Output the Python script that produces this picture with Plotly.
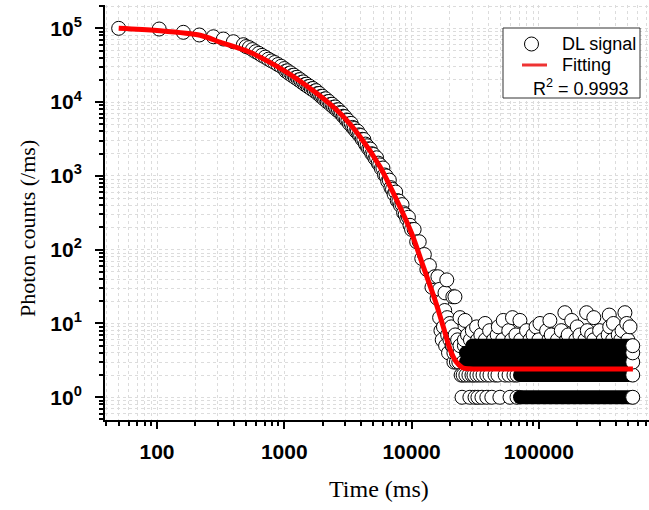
import plotly.graph_objects as go

# ---------------- data ----------------
# decay part of the DL signal (time in ms, photon counts per ms)
decay_t = [50, 104, 161, 215, 277, 332, 398, 477, 501, 531, 562, 596, 631, 668, 708, 750,
           794, 841, 891, 944, 1000, 1059, 1122, 1189, 1259, 1334, 1413, 1496, 1585, 1679,
           1778, 1884, 1995, 2113, 2239, 2371, 2512, 2661, 2818, 2985, 3162, 3350, 3548,
           3758, 3981, 4217, 4467, 4732, 5012, 5309, 5623, 5957, 6310, 6683, 7079, 7499,
           7943, 8414, 8913, 9441, 10000, 10471, 10965, 11482, 12023, 12589, 13183, 13804,
           14454, 15136, 15849, 16596, 17378, 18197, 19055, 19953]
decay_v = [100000, 97800, 88300, 81200, 76900, 71600, 65800, 60000, 56600, 54700, 51500,
           48300, 45800, 43000, 40700, 38200, 36200, 34400, 32300, 30600, 28500, 26600,
           24900, 23200, 21700, 20200, 18800, 17500, 16400, 15300, 14300, 13100, 12000,
           11100, 10200, 9360, 8590, 7880, 7140, 6350, 5660, 5150, 4390, 4040, 3530, 3110,
           2560, 2310, 1950, 1760, 1410, 1280, 998, 877, 656, 604, 455, 408, 299, 275, 188,
           188, 128, 128, 76, 86, 54, 61, 31, 43, 22, 29, 20, 15, 12, 10]

# further decay points along the lower side of the dense marker band
decay2_t = [1029, 1090, 1155, 1223, 1296, 1372, 1454, 1540, 1631, 1728, 1830, 1939, 2054,
            2175, 2304, 2441, 2585, 2738, 2901, 3073, 3255, 3447, 3652, 3868, 4097, 4340,
            4597, 4870, 5158, 5464, 5788, 6131, 6494, 6879, 7286, 7718, 8175, 8660, 9173,
            9716]
decay2_v = [26300, 24500, 22900, 21400, 20000, 18600, 17300, 16200, 15100, 14100, 13100,
            12000, 11000, 10100, 9310, 8550, 7850, 7210, 6440, 5730, 5090, 4540, 4040, 3600,
            3130, 2700, 2330, 2000, 1730, 1490, 1260, 1030, 845, 692, 568, 463, 398, 316,
            263, 214]

# noisy points around the knee of the decay
knee_t = [16100, 16600, 17000, 17400, 17800, 18300, 18500, 18900, 19200, 19500, 20000,
          20500, 21000, 21100, 21500, 21900, 22000, 22500, 23000, 23500, 24000, 24000]
knee_v = [43, 12, 8, 6, 9, 26, 5, 39, 7, 4, 6, 9, 5, 23, 3, 23, 7, 4, 6, 3, 12, 5]

# background (tail) points that are visible one by one
tail_t = [24900, 28700, 31500, 33200, 35700, 39000, 42700, 49400, 59300, 67300,          # 1
          24500, 25400, 26700, 28200, 29800, 30900, 32600, 34400, 36400, 39000, 41300,
          45200, 47700, 54300, 58300, 63700, 67300,                                      # 2
          22500, 25500,                                                                  # 3
          24000, 21500,                                                                  # 4
          20800, 23000, 26000,                                                           # 5
          26000, 29000, 33000, 38000, 44000, 52000, 61000, 72000, 85000, 100000,
          120000, 140000, 165000, 195000, 230000, 270000, 320000, 380000, 440000, 500000,  # 6
          27500, 35000, 47000, 66000, 90000, 125000, 170000, 210000, 260000, 350000, 420000,  # 7
          30000, 41000, 58000, 80000, 115000, 150000, 240000, 300000, 450000,            # 8
          32400, 48000, 95000, 200000, 360000, 520000,                                   # 9
          37800, 102000, 385000, 490000,                                                 # 10
          26300, 52500, 71000, 122000, 181000,                                           # 11
          62000, 270000,                                                                 # 12
          357000,                                                                        # 13
          160000, 237000, 474000]                                                        # 14
tail_v = [1] * 10 + [2] * 17 + [3] * 2 + [4] * 2 + [5] * 3 + [6] * 20 + [7] * 11 + \
         [8] * 9 + [9] * 6 + [10] * 4 + [11] * 5 + [12] * 2 + [13] + [14] * 3

# count levels that are so dense they form solid bands of markers
band_level = [1, 2, 3, 4, 5]
band_start = [71100, 71100, 26700, 26700, 30000]
band_end = [546000, 546000, 546000, 546000, 546000]

# fitted curve
fit_t = [50, 100, 218, 316, 537, 982, 1795, 2742, 3936, 5649, 7638, 10000, 12359, 15276,
         17783, 19953, 22387, 25119, 28184, 31623, 548000]
fit_v = [100000, 93300, 80400, 64600, 47300, 27200, 13150, 7050, 3400, 1333, 471, 167, 59,
         20.8, 8.9, 4.57, 3.02, 2.51, 2.43, 2.42, 2.42]

x_tickvals = [100, 1000, 10000, 100000]
x_ticktext = ["100", "1000", "10000", "100000"]
y_tickvals = [1, 10, 100, 1000, 10000, 100000]
y_ticktext = ["10<sup>0</sup>", "10<sup>1</sup>", "10<sup>2</sup>", "10<sup>3</sup>",
              "10<sup>4</sup>", "10<sup>5</sup>"]
legend_names = ["DL signal", "Fitting"]
r2_text = "R<sup>2</sup> = 0.9993"

# ---------------- figure ----------------
W, H = 649, 510
L, R, T, B = 105, 0, 5, 90
PW, PH = W - L - R, H - T - B


def px_x(px):
    return (px - L) / PW


def px_y(py):
    return (H - B - py) / PH


pts = sorted(zip(decay_t + decay2_t + knee_t + tail_t,
                 decay_v + decay2_v + knee_v + tail_v))
sig_t = [p[0] for p in pts]
sig_v = [p[1] for p in pts]

marker_style = dict(symbol="circle", size=14, color="white",
                    line=dict(color="black", width=1))

fig = go.Figure()
fig.add_trace(go.Scatter(x=sig_t, y=sig_v, mode="markers", name=legend_names[0],
                         marker=marker_style, showlegend=False))

bx, by = [], []
for lv, s, e in zip(band_level, band_start, band_end):
    bx += [s, e, None]
    by += [lv, lv, None]
fig.add_trace(go.Scatter(x=bx, y=by, mode="lines+markers", showlegend=False,
                         line=dict(color="black", width=14),
                         marker=dict(symbol="circle", size=14, color="black"),
                         hoverinfo="skip"))
fig.add_trace(go.Scatter(x=band_end, y=band_level, mode="markers", showlegend=False,
                         marker=marker_style))
fig.add_trace(go.Scatter(x=fit_t, y=fit_v, mode="lines", name=legend_names[1],
                         showlegend=False,
                         line=dict(color="#ff0000", width=5, shape="spline", smoothing=0.8)))

grid = dict(showgrid=True, gridcolor="#dcdcdc", griddash="3px,3px", gridwidth=1)
xminor = [m * 10 ** k for k in range(1, 6) for m in range(2, 10)]
yminor = [m * 10 ** k for k in range(-1, 6) for m in range(2, 10)]

fig.update_xaxes(type="log", range=[1.5915, 5.865], tickmode="array",
                 tickvals=x_tickvals, ticktext=x_ticktext, automargin=False,
                 tickfont=dict(family="Liberation Sans, Arial", size=21, color="black",
                               weight="bold"),
                 ticks="outside", ticklen=7, tickwidth=2, tickcolor="black",
                 showline=True, linecolor="black", linewidth=2,
                 ticklabelstandoff=5,
                 minor=dict(tickmode="array", tickvals=xminor, ticks="outside", ticklen=4,
                            tickwidth=1.5, tickcolor="black", **grid),
                 zeroline=False, **grid)
fig.update_yaxes(type="log", range=[-0.308, 5.316], tickmode="array",
                 tickvals=y_tickvals, ticktext=y_ticktext, automargin=False,
                 tickfont=dict(family="Liberation Sans, Arial", size=21, color="black",
                               weight="bold"),
                 ticks="outside", ticklen=8, tickwidth=2, tickcolor="black",
                 showline=True, linecolor="black", linewidth=2,
                 ticklabelstandoff=9,
                 minor=dict(tickmode="array", tickvals=yminor, ticks="outside", ticklen=4,
                            tickwidth=1.5, tickcolor="black", **grid),
                 zeroline=False, **grid)

legend_font = dict(family="Liberation Sans, Arial", size=18, color="black")
fig.update_layout(
    width=W, height=H, margin=dict(l=L, r=R, t=T, b=B, pad=0, autoexpand=False),
    paper_bgcolor="white", plot_bgcolor="white", showlegend=False,
    font=dict(family="Liberation Sans, Arial", color="black"),
    shapes=[
        dict(type="rect", xref="paper", yref="paper",
             x0=px_x(503), x1=px_x(640), y0=px_y(98), y1=px_y(28),
             line=dict(color="#333333", width=1), fillcolor="white", layer="above"),
        dict(type="circle", xref="paper", yref="paper",
             x0=px_x(524.5), x1=px_x(538.5), y0=px_y(51), y1=px_y(37),
             line=dict(color="black", width=1), fillcolor="white", layer="above"),
        dict(type="line", xref="paper", yref="paper",
             x0=px_x(522), x1=px_x(547), y0=px_y(65), y1=px_y(65),
             line=dict(color="#ee3333", width=3), layer="above"),
    ],
    annotations=[
        dict(text=legend_names[0], xref="paper", yref="paper", x=px_x(560), y=px_y(44),
             showarrow=False, xanchor="left", yanchor="middle", font=legend_font),
        dict(text=legend_names[1], xref="paper", yref="paper", x=px_x(560), y=px_y(65),
             showarrow=False, xanchor="left", yanchor="middle", font=legend_font),
        dict(text=r2_text, xref="paper", yref="paper", x=px_x(581), y=px_y(88),
             showarrow=False, xanchor="center", yanchor="middle", font=legend_font),
        dict(text="Time (ms)", xref="paper", yref="paper", x=px_x(379), y=px_y(489),
             showarrow=False, xanchor="center", yanchor="middle",
             font=dict(family="Liberation Serif, Times New Roman", size=24, color="black")),
        dict(text="Photon counts (/ms)", xref="paper", yref="paper", x=px_x(27),
             y=px_y(229), showarrow=False, xanchor="center", yanchor="middle", textangle=-90,
             font=dict(family="Liberation Serif, Times New Roman", size=22, color="black")),
    ],
)

fig.write_html("out.html", config={"displayModeBar": False},
               post_script="document.body.style.margin='0';")
